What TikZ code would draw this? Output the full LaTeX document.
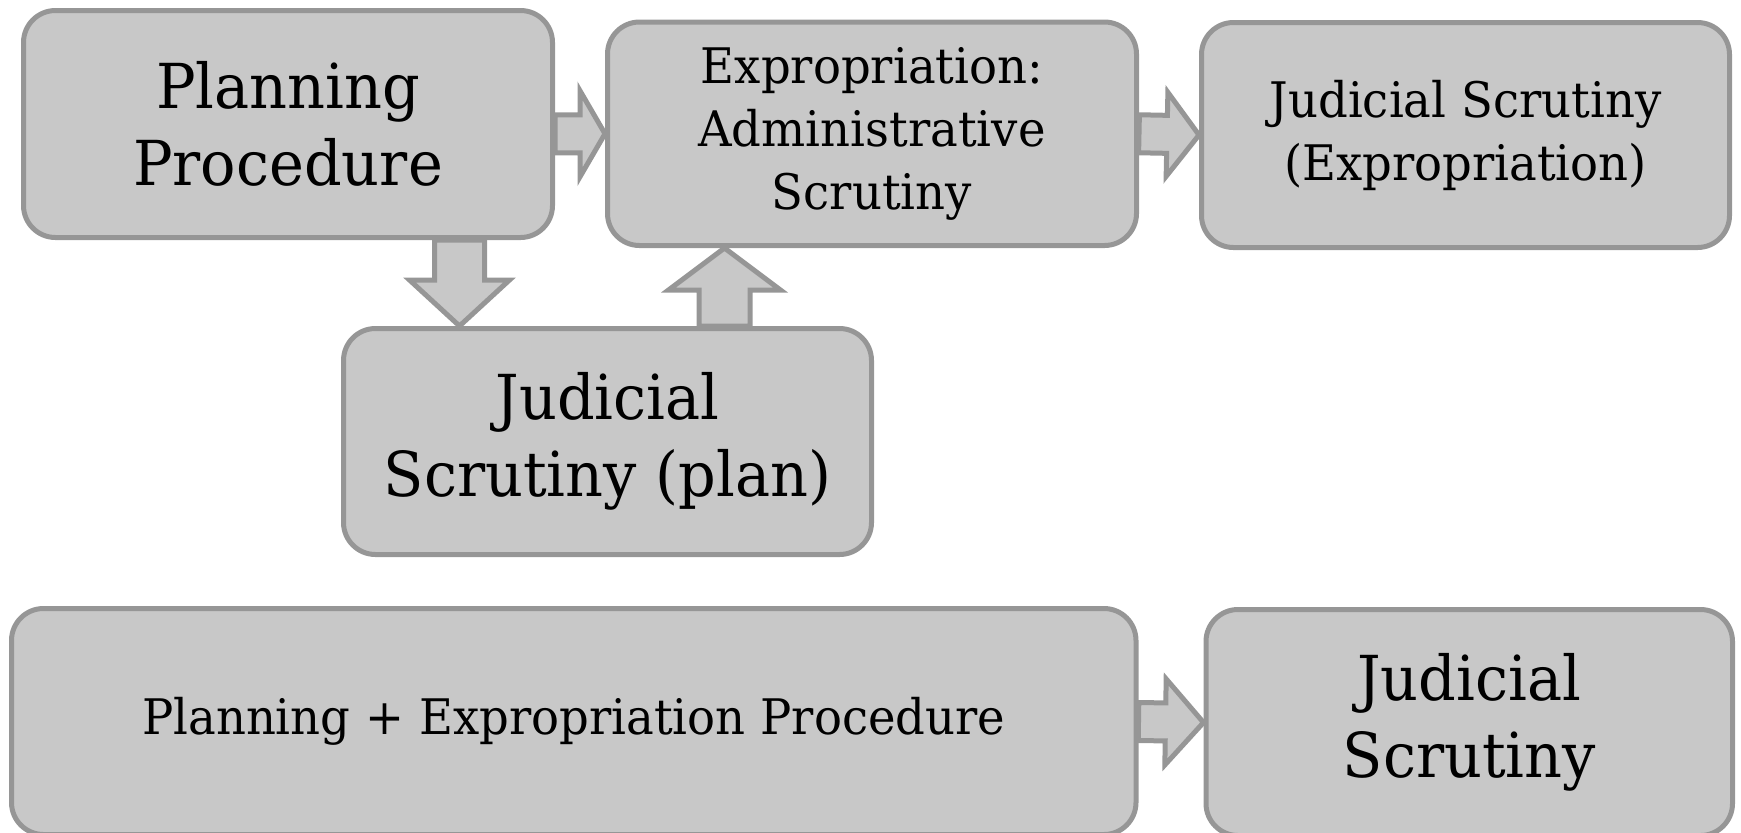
\documentclass[tikz,border=0pt]{standalone}
\usepackage{fontspec}
\setmainfont[FakeStretch=0.95]{DejaVu Serif}
\usetikzlibrary{calc}

\definecolor{boxfill}{HTML}{C8C8C8}
\definecolor{boxline}{HTML}{969696}

% block arrow: start, tip, body half width, head half width, head length
\newcommand{\flowarrow}[5]{%
  \coordinate (fa-q) at ($(#2)!#5!(#1)$);
  \draw[arrowline] ($(#1)!#3!90:(#2)$) -- ($(fa-q)!#3!90:(#2)$)
    -- ($(fa-q)!#4!90:(#2)$) -- (#2) -- ($(fa-q)!#4!-90:(#2)$)
    -- ($(fa-q)!#3!-90:(#2)$) -- ($(#1)!#3!-90:(#2)$) -- cycle;}

\begin{document}
\begin{tikzpicture}[x=0.5pt,y=-0.5pt,
    stagebox/.style={rectangle, rounded corners=16pt, draw=boxline, fill=boxfill,
      line width=2.5pt, align=center, text=black},
    bigbox/.style={stagebox, font=\fontsize{31}{38.5}\selectfont},
    smallbox/.style={stagebox, font=\fontsize{24.5}{31.5}\selectfont},
    arrowline/.style={draw=boxline, fill=boxfill, line width=2.5pt, line join=miter}]

    \useasboundingbox (0,0) rectangle (1741,832);

    \node[bigbox, minimum width=264.5pt, minimum height=113.5pt] (plan) at (288,124) {Planning\\Procedure};
    \node[smallbox, minimum width=264.5pt, minimum height=111.75pt] (expr) at (872,133.75) {Expropriation:\\Administrative\\Scrutiny};
    \node[smallbox, minimum width=264pt, minimum height=112.5pt] (jexp) at (1465.5,135) {Judicial Scrutiny\\(Expropriation)};
    \node[bigbox, minimum width=264pt, minimum height=113pt] (jplan) at (607.5,441.5) {Judicial\\Scrutiny (plan)};

    \node[smallbox, minimum width=562.25pt, minimum height=113pt] (combo) at (573.75,721.5) {Planning + Expropriation Procedure};
    \node[bigbox, minimum width=263.25pt, minimum height=113pt] (jud) at (1469.25,722.5) {Judicial\\Scrutiny};

    \coordinate (down) at ($(jplan.north west)+(118.5,0)$);
    \coordinate (up) at ($(jplan.north west)+(383.5,0)$);

    \flowarrow{plan.east |- expr.west}{expr.west}{9.5pt}{21.5pt}{12.5pt}
    \flowarrow{expr.east}{jexp.west}{9.5pt}{21pt}{16pt}
    \flowarrow{down |- plan.south}{down}{12.5pt}{25pt}{23pt}
    \flowarrow{up}{up |- expr.south}{12.75pt}{28pt}{21pt}
    \flowarrow{combo.east}{jud.west}{9.5pt}{21.5pt}{19pt}

  \end{tikzpicture}
\end{document}
